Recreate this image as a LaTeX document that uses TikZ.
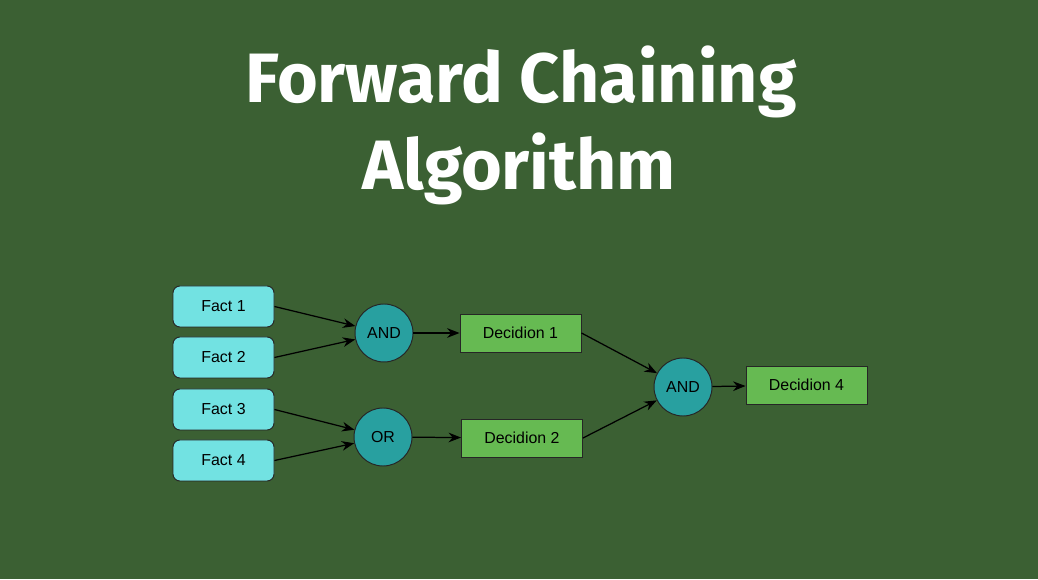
\documentclass[tikz,border=0pt]{standalone}
\usepackage{fontspec}
\setmainfont{Liberation Sans}
\newfontfamily\titlefont{Fira Sans}
\usetikzlibrary{arrows.meta}
\definecolor{bggreen}{RGB}{59,96,51}
\definecolor{factcyan}{RGB}{114,226,226}
\definecolor{gateteal}{RGB}{40,160,160}
\definecolor{decgreen}{RGB}{102,186,82}

\begin{document}
\begin{tikzpicture}[x=1in,y=1in,
  fact/.style={draw=black!85, line width=0.7pt, fill=factcyan, rounded corners=5pt,
    minimum width=1.01in, minimum height=0.41in, font=\fontsize{11.5}{13}\selectfont},
  gate/.style={circle, draw=black!85, line width=0.7pt, fill=gateteal,
    minimum size=0.58in, inner sep=0pt, font=\fontsize{11.5}{13}\selectfont},
  decision/.style={draw=black!85, line width=0.7pt, fill=decgreen,
    minimum width=1.21in, minimum height=0.38in, font=\fontsize{11.5}{13}\selectfont},
  link/.style={line width=0.9pt, -{Stealth[length=9pt,width=7pt]}}]
\fill[bggreen] (0,0) rectangle (10.38,5.79);
\useasboundingbox (0,0) rectangle (10.38,5.79);
\node[anchor=base, text=white, font=\titlefont\bfseries\fontsize{50.5}{58}\selectfont] (title1) at (5.21,4.76) {Forward Chaining};
\node[anchor=base, text=white, font=\titlefont\bfseries\fontsize{50.5}{58}\selectfont] (title2) at (5.19,3.89) {Algorithm};
\node[fact] (fact1) at (2.235,2.725) {Fact 1};
\node[fact] (fact2) at (2.235,2.215) {Fact 2};
\node[fact] (fact3) at (2.235,1.695) {Fact 3};
\node[fact] (fact4) at (2.235,1.185) {Fact 4};
\node[gate] (and1) at (3.84,2.46) {AND};
\node[gate] (or1) at (3.83,1.42) {OR};
\node[decision] (dec1) at (5.205,2.46) {Decidion 1};
\node[decision] (dec2) at (5.22,1.41) {Decidion 2};
\node[gate] (and2) at (6.83,1.92) {AND};
\node[decision] (dec4) at (8.065,1.94) {Decidion 4};
\draw[link] (fact1.east) -- (and1);
\draw[link] (fact2.east) -- (and1);
\draw[link] (fact3.east) -- (or1);
\draw[link] (fact4.east) -- (or1);
\draw[link] (and1) -- (dec1);
\draw[link] (or1) -- (dec2);
\draw[link] (dec1.east) -- (and2);
\draw[link] (dec2.east) -- (and2);
\draw[link] (and2) -- (dec4);
\end{tikzpicture}
\end{document}
